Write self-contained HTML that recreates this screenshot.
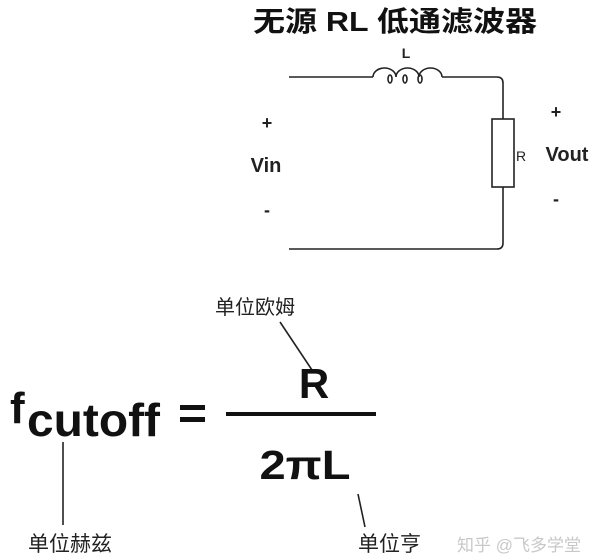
<!DOCTYPE html>
<html><head><meta charset="utf-8"><style>
html,body{margin:0;padding:0;background:#fff;width:600px;height:560px;overflow:hidden}
svg text{font-family:"Liberation Sans","Noto Sans CJK SC",sans-serif}
</style></head><body>
<svg width="600" height="560" viewBox="0 0 600 560" xmlns="http://www.w3.org/2000/svg">
<text x="253" y="31" font-size="28" font-weight="bold" fill="#111" textLength="284" lengthAdjust="spacingAndGlyphs">无源 RL 低通滤波器</text>
<g fill="none" stroke="#222" stroke-width="1.6">
<path d="M289 77 H373"/>
<path d="M373 77 a11.5 9 0 0 1 23 0 a11.5 9 0 0 1 23 0 a11.5 9 0 0 1 23 0"/>
<ellipse cx="390" cy="79" rx="2" ry="4"/>
<ellipse cx="405" cy="79" rx="2" ry="4"/>
<ellipse cx="420" cy="79" rx="2" ry="4"/>
<path d="M442 77 H497 Q503 77 503 83 V119"/>
<rect x="492" y="119" width="22" height="68"/>
<path d="M503 187 V243 Q503 249 497 249 H289"/>
<path d="M63 442 V525"/>
<path d="M280 322 L312 370"/>
<path d="M358 494 L365 527"/>
</g>
<text x="406" y="58" text-anchor="middle" font-size="14" font-weight="bold" fill="#222">L</text>
<text x="516" y="161" font-size="14" fill="#222">R</text>
<text x="556" y="118" text-anchor="middle" font-size="18" font-weight="bold" fill="#222">+</text>
<text x="567" y="161" text-anchor="middle" font-size="20" font-weight="bold" fill="#222">Vout</text>
<text x="556" y="205" text-anchor="middle" font-size="18" font-weight="bold" fill="#222">-</text>
<text x="267" y="129" text-anchor="middle" font-size="18" font-weight="bold" fill="#222">+</text>
<text x="266" y="172" text-anchor="middle" font-size="20" font-weight="bold" fill="#222">Vin</text>
<text x="267" y="216" text-anchor="middle" font-size="18" font-weight="bold" fill="#222">-</text>
<text x="10" y="423" font-size="44" font-weight="bold" fill="#111">f</text>
<text x="27" y="436" font-size="46" font-weight="bold" fill="#111" textLength="133" lengthAdjust="spacingAndGlyphs">cutoff</text>
<rect x="180" y="405" width="25" height="5" fill="#111"/>
<rect x="180" y="417" width="25" height="5" fill="#111"/>
<rect x="226" y="412" width="150" height="4" fill="#111"/>
<text x="314" y="398" text-anchor="middle" font-size="42" font-weight="bold" fill="#111">R</text>
<text x="305" y="479" text-anchor="middle" font-size="41" font-weight="bold" fill="#111" textLength="91" lengthAdjust="spacingAndGlyphs">2πL</text>
<text x="215" y="314" font-size="20" fill="#222">单位欧姆</text>
<text x="28" y="551" font-size="21" fill="#222">单位赫兹</text>
<text x="358" y="551" font-size="21" fill="#222">单位亨</text>
<text x="457" y="551" font-size="17" fill="#c8c8c8">知乎 @飞多学堂</text>
</svg>
</body></html>
